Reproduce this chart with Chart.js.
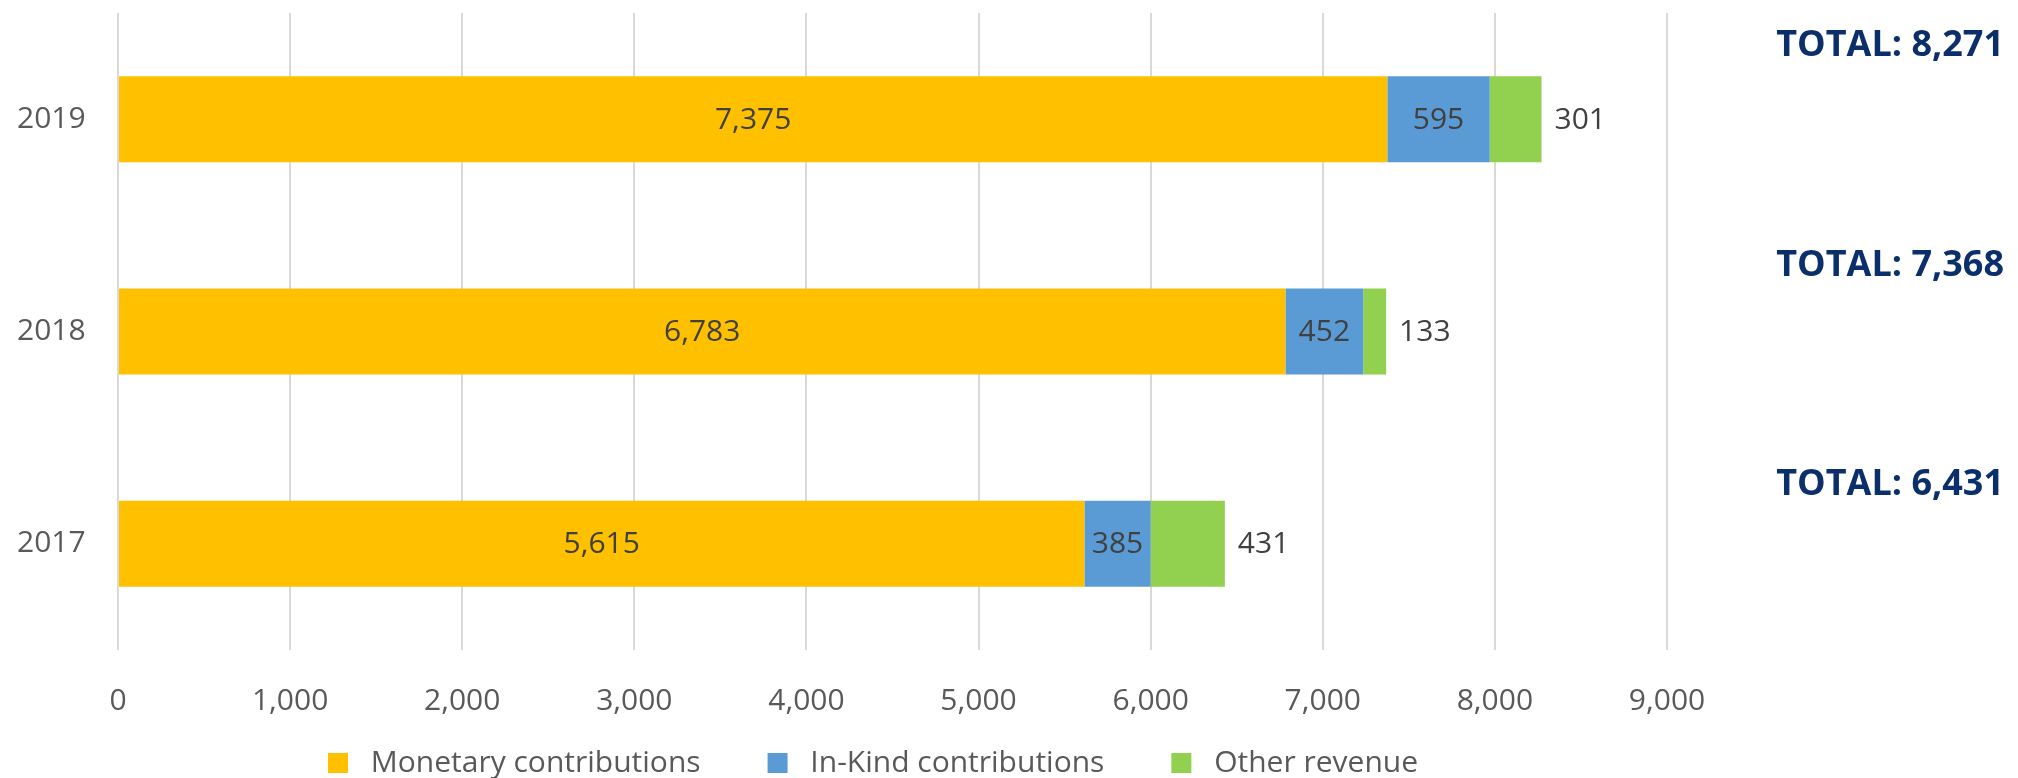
<!DOCTYPE html>
<html>
<head>
    <title>Revenue by year</title>
    <script src="https://cdn.jsdelivr.net/npm/chart.js"></script>
    <style>
        body { margin: 0; background: #fff; }
        canvas { display: block; }
    </style>
</head>
<body>
    <canvas id="chart" width="2018" height="778"></canvas>
    <script>
        const years = ['2019', '2018', '2017'];
        const monetary = [7375, 6783, 5615];
        const inKind = [595, 452, 385];
        const otherRevenue = [301, 133, 431];
        const xTicks = [0, 1000, 2000, 3000, 4000, 5000, 6000, 7000, 8000, 9000];

        const fmt = v => v.toLocaleString('en-US');

        // value labels: first two centred in the bar, the last one just after the bar end
        const barLabels = {
            id: 'barLabels',
            afterDatasetsDraw(chart) {
                const ctx = chart.ctx;
                ctx.save();
                ctx.font = "30px 'Open Sans'";
                ctx.fillStyle = '#404040';
                ctx.textBaseline = 'middle';
                chart.data.datasets.forEach((ds, di) => {
                    const meta = chart.getDatasetMeta(di);
                    meta.data.forEach((bar, i) => {
                        const txt = fmt(ds.data[i]);
                        if (di < 2) {
                            ctx.textAlign = 'center';
                            ctx.fillText(txt, (bar.x + bar.base) / 2, bar.y + 1);
                        } else {
                            ctx.textAlign = 'left';
                            ctx.fillText(txt, bar.x + 13, bar.y + 1);
                        }
                    });
                });
                ctx.restore();
            }
        };

        // "TOTAL: x" captions on the right side
        const totals = {
            id: 'totals',
            afterDraw(chart) {
                const ctx = chart.ctx;
                const area = chart.chartArea;
                ctx.save();
                ctx.font = "bold 36px 'Open Sans'";
                ctx.fillStyle = '#0b2f6b';
                ctx.textAlign = 'right';
                ctx.textBaseline = 'middle';
                years.forEach((y, i) => {
                    const sum = monetary[i] + inKind[i] + otherRevenue[i];
                    ctx.fillText('TOTAL: ' + fmt(sum), chart.width - 14, area.top + 33 + i * 219.5);
                });
                ctx.restore();
            }
        };

        Chart.defaults.font.family = "'Open Sans', sans-serif";
        Chart.defaults.color = '#595959';

        const trailing = ['     ', '     ', '     '];

        new Chart(document.getElementById('chart'), {
            type: 'bar',
            data: {
                labels: years,
                datasets: [
                    { label: 'Monetary contributions', data: monetary, backgroundColor: '#ffc000' },
                    { label: 'In-Kind contributions', data: inKind, backgroundColor: '#5b9bd5' },
                    { label: 'Other revenue', data: otherRevenue, backgroundColor: '#92d050' }
                ]
            },
            options: {
                indexAxis: 'y',
                responsive: false,
                animation: false,
                categoryPercentage: 1,
                barPercentage: 0.405,
                layout: { padding: { top: 13, right: 351, left: 17, bottom: 0 } },
                scales: {
                    x: {
                        stacked: true,
                        min: 0,
                        max: 9000,
                        afterBuildTicks: scale => { scale.ticks = xTicks.map(v => ({ value: v })); },
                        afterFit: scale => { scale.height = 70; },
                        grid: { color: '#d9d9d9', lineWidth: 2, drawTicks: false },
                        border: { display: false },
                        ticks: { font: { size: 30 }, padding: 33, callback: v => fmt(v) }
                    },
                    y: {
                        stacked: true,
                        afterFit: scale => { scale.width = 101; },
                        grid: { display: false },
                        border: { display: false },
                        ticks: { font: { size: 30, lineHeight: 0.8 }, padding: 0, crossAlign: 'far' }
                    }
                },
                plugins: {
                    tooltip: { enabled: false },
                    legend: {
                        position: 'bottom',
                        fullSize: false,
                        maxHeight: 58,
                        labels: {
                            boxWidth: 20,
                            boxHeight: 20,
                            padding: 28,
                            font: { size: 30 },
                            color: '#595959',
                            // spaces widen the gaps around the legend text
                            generateLabels: chart => Chart.defaults.plugins.legend.labels.generateLabels(chart)
                                .map((item, i) => Object.assign(item, {
                                    text: ' ' + item.text + trailing[i],
                                    lineWidth: 0
                                }))
                        }
                    }
                }
            },
            plugins: [barLabels, totals]
        });
    </script>
</body>
</html>
